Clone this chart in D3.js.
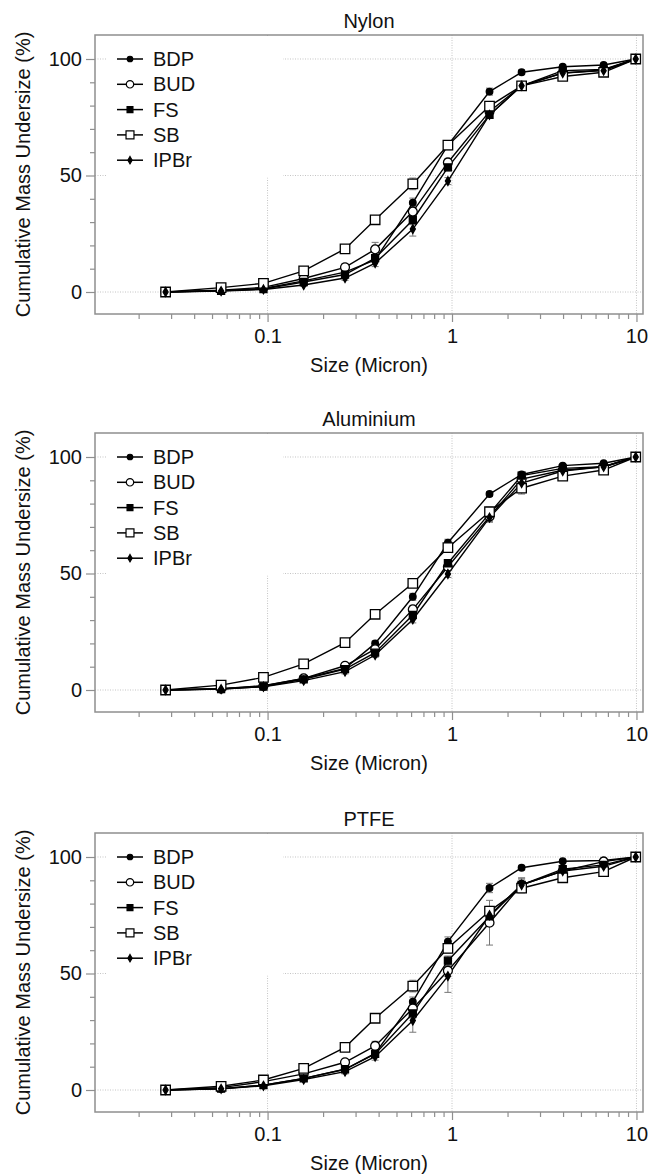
<!DOCTYPE html>
<html>
<head>
<meta charset="utf-8">
<script src="https://cdn.jsdelivr.net/npm/d3@7"></script>
<style>
  body { margin: 0; background: #fff; }
  svg { display: block; }
  text { font-family: "Liberation Sans", Arial, sans-serif; fill: #111; }
</style>
</head>
<body>
<svg id="chart" width="657" height="1176"></svg>
<script>
// stage cut sizes (micron)
const sizes = [0.028, 0.056, 0.095, 0.157, 0.263, 0.383, 0.613, 0.95, 1.597, 2.384, 3.983, 6.638, 9.91];
const seriesNames = ["BDP", "BUD", "FS", "SB", "IPBr"];
const panelTitles = ["Nylon", "Aluminium", "PTFE"];
const xTickLabels = [0.1, 1, 10];
const yTickLabels = [0, 50, 100];

// Nylon
const nylonBDP  = [0, 0.6, 1.5, 4.8, 8.5, 13.8, 38.3, 63.0, 86.0, 94.3, 96.7, 97.4, 100];
const nylonBUD  = [0, 0.8, 2.0, 5.8, 10.6, 18.3, 34.5, 55.6, 77.5, 88.5, 94.0, 95.3, 100];
const nylonFS   = [0, 0.5, 1.3, 4.3, 7.5, 14.5, 30.9, 53.5, 76.0, 88.5, 95.0, 95.5, 100];
const nylonSB   = [0, 1.9, 3.7, 9.1, 18.5, 31.0, 46.4, 63.0, 79.8, 88.5, 92.5, 94.3, 100];
const nylonIPBr = [0, 0.4, 1.1, 3.0, 6.0, 12.4, 27.0, 47.6, 76.0, 88.5, 94.0, 95.0, 100];
const nylonBDPErr  = [0, 0.3, 0.3, 0.5, 0.8, 1.0, 2.0, 1.5, 1.5, 1.0, 0.8, 0.8, 0];
const nylonBUDErr  = [0, 0.3, 0.4, 0.6, 1.5, 3.0, 2.0, 1.5, 1.5, 1.0, 0.8, 0.8, 0];
const nylonFSErr   = [0, 0.3, 0.3, 0.5, 1.0, 1.5, 2.0, 1.5, 1.5, 1.0, 1.0, 0.8, 0];
const nylonSBErr   = [0, 0.3, 0.4, 0.8, 1.0, 1.5, 2.5, 2.0, 1.5, 1.0, 1.0, 1.0, 0];
const nylonIPBrErr = [0, 0.3, 0.3, 0.5, 1.0, 1.5, 3.0, 1.5, 1.5, 1.0, 1.0, 0.8, 0];

// Aluminium
const aluBDP  = [0, 0.5, 1.7, 5.0, 9.3, 20.0, 40.0, 63.2, 84.1, 92.5, 96.3, 97.3, 100];
const aluBUD  = [0, 0.6, 1.8, 5.0, 10.4, 17.5, 34.6, 52.9, 74.4, 90.5, 94.3, 95.8, 100];
const aluFS   = [0, 0.4, 1.5, 4.6, 9.0, 16.0, 32.2, 54.4, 75.8, 92.0, 95.1, 95.8, 100];
const aluSB   = [0, 2.1, 5.4, 11.2, 20.3, 32.5, 45.8, 61.1, 76.5, 86.6, 91.8, 94.4, 100];
const aluIPBr = [0, 0.4, 1.4, 4.0, 7.9, 15.0, 30.3, 49.8, 74.0, 88.8, 94.0, 95.8, 100];
const aluBDPErr  = [0, 0.3, 0.3, 0.5, 0.8, 1.0, 1.5, 1.5, 1.0, 1.0, 0.8, 0.5, 0];
const aluBUDErr  = [0, 0.3, 0.3, 0.5, 1.0, 1.5, 1.5, 1.5, 2.0, 1.5, 0.8, 0.8, 0];
const aluFSErr   = [0, 0.3, 0.3, 0.5, 1.0, 1.0, 1.5, 1.5, 1.5, 1.0, 1.0, 0.8, 0];
const aluSBErr   = [0, 0.3, 0.4, 0.5, 1.0, 1.0, 1.5, 1.5, 2.0, 2.5, 1.0, 1.0, 0];
const aluIPBrErr = [0, 0.3, 0.3, 0.5, 1.0, 1.0, 1.5, 1.5, 2.0, 1.5, 1.0, 0.8, 0];

// PTFE
const ptfeBDP  = [0, 0.5, 2.1, 5.0, 8.9, 15.7, 37.9, 63.7, 86.7, 95.4, 98.2, 98.5, 100];
const ptfeBUD  = [0, 1.0, 3.6, 6.9, 11.9, 18.9, 35.0, 51.2, 71.8, 88.0, 94.0, 98.0, 100];
const ptfeFS   = [0, 0.6, 2.1, 5.0, 8.9, 15.5, 32.9, 55.5, 74.5, 88.0, 94.8, 96.6, 100];
const ptfeSB   = [0, 1.6, 4.3, 9.3, 18.3, 30.8, 44.6, 60.8, 76.8, 86.6, 91.1, 93.7, 100];
const ptfeIPBr = [0, 0.5, 1.8, 4.5, 7.9, 14.3, 29.8, 48.9, 75.0, 88.0, 94.0, 96.0, 100];
const ptfeBDPErr  = [0, 0.3, 0.3, 0.5, 0.8, 1.0, 2.0, 2.0, 2.0, 1.0, 0.5, 0.5, 0];
const ptfeBUDErr  = [0, 0.3, 0.4, 0.6, 1.0, 2.0, 2.0, 2.5, 9.6, 3.0, 1.0, 0.8, 0];
const ptfeFSErr   = [0, 0.3, 0.3, 0.5, 1.0, 1.5, 2.0, 2.0, 2.0, 3.0, 1.0, 0.8, 0];
const ptfeSBErr   = [0, 0.3, 0.4, 0.6, 1.0, 1.5, 2.5, 2.0, 2.0, 2.0, 1.0, 1.0, 0];
const ptfeIPBrErr = [0, 0.3, 0.3, 0.5, 1.0, 1.5, 5.0, 7.0, 2.0, 2.5, 1.0, 0.8, 0];

const panelValues = [
  [nylonBDP, nylonBUD, nylonFS, nylonSB, nylonIPBr],
  [aluBDP, aluBUD, aluFS, aluSB, aluIPBr],
  [ptfeBDP, ptfeBUD, ptfeFS, ptfeSB, ptfeIPBr],
];
const panelErrors = [
  [nylonBDPErr, nylonBUDErr, nylonFSErr, nylonSBErr, nylonIPBrErr],
  [aluBDPErr, aluBUDErr, aluFSErr, aluSBErr, aluIPBrErr],
  [ptfeBDPErr, ptfeBUDErr, ptfeFSErr, ptfeSBErr, ptfeIPBrErr],
];

// layout
const panelTops = [35, 433, 833];
const left = 95, right = 643, plotH = 279;
const gridColor = "#c4c4c4";
const frameColor = "#8f8f8f";

// marker style for each series
const markers = {
  BDP:  { type: d3.symbolCircle, size: 34, fill: "#000" },
  BUD:  { type: d3.symbolCircle, size: 62, fill: "#fff" },
  FS:   { type: d3.symbolSquare, size: 49, fill: "#000" },
  SB:   { type: d3.symbolSquare, size: 90, fill: "#fff" },
  IPBr: { type: d3.symbolDiamond, size: 22, fill: "#000" },
};

const x = d3.scaleLog().domain([0.0116, 10.85]).range([left, right]);

// minor ticks 2..9 per decade
let xMinor = [];
[0.01, 0.1, 1].forEach(function (d) {
  for (let k = 2; k <= 9; k++) xMinor.push(d * k);
});
xMinor = xMinor.filter(v => v > 0.0116 && v < 10.85);
const yMinor = d3.range(0, 101, 10).filter(v => v % 50 !== 0);

let svg = d3.select("#chart");

panelTops.forEach(function (top, p) {
  let y = d3.scaleLinear().domain([-9.44, 110.3]).range([top + plotH, top]);
  let g = svg.append("g");

  // dotted gridlines
  xTickLabels.forEach(function (v) {
    g.append("line")
      .attr("x1", x(v)).attr("x2", x(v))
      .attr("y1", top).attr("y2", top + plotH)
      .attr("stroke", gridColor).attr("stroke-width", 1)
      .attr("stroke-dasharray", "1,1.5");
  });
  yTickLabels.forEach(function (v) {
    g.append("line")
      .attr("x1", left).attr("x2", right)
      .attr("y1", y(v)).attr("y2", y(v))
      .attr("stroke", gridColor).attr("stroke-width", 1)
      .attr("stroke-dasharray", "1,1.5");
  });

  // legend background hides the gridlines behind it
  g.append("rect")
    .attr("x", 107).attr("y", top + 1)
    .attr("width", 176).attr("height", y(50) - top + 1)
    .attr("fill", "#fff");

  // axes
  let xMajor = g.append("g")
    .attr("transform", `translate(0,${top + plotH})`)
    .call(d3.axisBottom(x).tickValues(xTickLabels).tickSize(8).tickPadding(7)
      .tickFormat(d3.format("")));
  let xMin = g.append("g")
    .attr("transform", `translate(0,${top + plotH})`)
    .call(d3.axisBottom(x).tickValues(xMinor).tickSize(5).tickFormat(""));
  let yMajor = g.append("g")
    .attr("transform", `translate(${left},0)`)
    .call(d3.axisLeft(y).tickValues(yTickLabels).tickSize(9).tickPadding(4));
  let yMin = g.append("g")
    .attr("transform", `translate(${left},0)`)
    .call(d3.axisLeft(y).tickValues(yMinor).tickSize(5).tickFormat(""));

  [xMajor, xMin, yMajor, yMin].forEach(function (ax) {
    ax.select(".domain").remove();
    ax.selectAll(".tick line").attr("stroke", frameColor).attr("stroke-width", 1.2);
    ax.selectAll("text").attr("font-size", 20)
      .attr("font-family", "'Liberation Sans', Arial, sans-serif").attr("fill", "#111");
  });

  // frame
  g.append("rect")
    .attr("x", left).attr("y", top)
    .attr("width", right - left).attr("height", plotH)
    .attr("fill", "none").attr("stroke", frameColor).attr("stroke-width", 1.5);

  // titles
  g.append("text")
    .attr("x", (left + right) / 2).attr("y", top - 7)
    .attr("text-anchor", "middle").attr("font-size", 20)
    .text(panelTitles[p]);
  g.append("text")
    .attr("x", (left + right) / 2).attr("y", top + plotH + 58)
    .attr("text-anchor", "middle").attr("font-size", 20)
    .text("Size (Micron)");
  g.append("text")
    .attr("transform", `translate(30,${top + plotH / 2}) rotate(-90)`)
    .attr("text-anchor", "middle").attr("font-size", 20)
    .text("Cumulative Mass Undersize (%)");

  let line = d3.line().x(d => x(d[0])).y(d => y(d[1]));

  // error bars
  seriesNames.forEach(function (name, s) {
    let vals = panelValues[p][s];
    let errs = panelErrors[p][s];
    sizes.forEach(function (sz, i) {
      if (!errs[i]) return;
      let cx = x(sz);
      let y0 = y(vals[i] - errs[i]);
      let y1 = y(vals[i] + errs[i]);
      g.append("path")
        .attr("d", `M${cx},${y0}V${y1}M${cx - 3.5},${y0}H${cx + 3.5}M${cx - 3.5},${y1}H${cx + 3.5}`)
        .attr("stroke", "#777").attr("stroke-width", 1).attr("fill", "none");
    });
  });

  // lines
  seriesNames.forEach(function (name, s) {
    let pts = sizes.map((sz, i) => [sz, panelValues[p][s][i]]);
    g.append("path")
      .attr("d", line(pts))
      .attr("fill", "none").attr("stroke", "#000").attr("stroke-width", 1.4);
  });

  // markers
  seriesNames.forEach(function (name, s) {
    let m = markers[name];
    g.selectAll(null)
      .data(sizes.map((sz, i) => [sz, panelValues[p][s][i]]))
      .enter().append("path")
      .attr("transform", d => `translate(${x(d[0])},${y(d[1])})`)
      .attr("d", d3.symbol().type(m.type).size(m.size))
      .attr("fill", m.fill).attr("stroke", "#000").attr("stroke-width", 1.3);
  });

  // legend
  seriesNames.forEach(function (name, s) {
    let m = markers[name];
    let ly = top + 24 + s * 25.3;
    g.append("line")
      .attr("x1", 117).attr("x2", 143).attr("y1", ly).attr("y2", ly)
      .attr("stroke", "#000").attr("stroke-width", 1.5);
    g.append("path")
      .attr("transform", `translate(130,${ly})`)
      .attr("d", d3.symbol().type(m.type).size(m.size * 0.7))
      .attr("fill", m.fill).attr("stroke", "#000").attr("stroke-width", 1.2);
    g.append("text")
      .attr("x", 153).attr("y", ly).attr("dy", "0.35em")
      .attr("font-size", 20)
      .text(name);
  });
});
</script>
</body>
</html>
